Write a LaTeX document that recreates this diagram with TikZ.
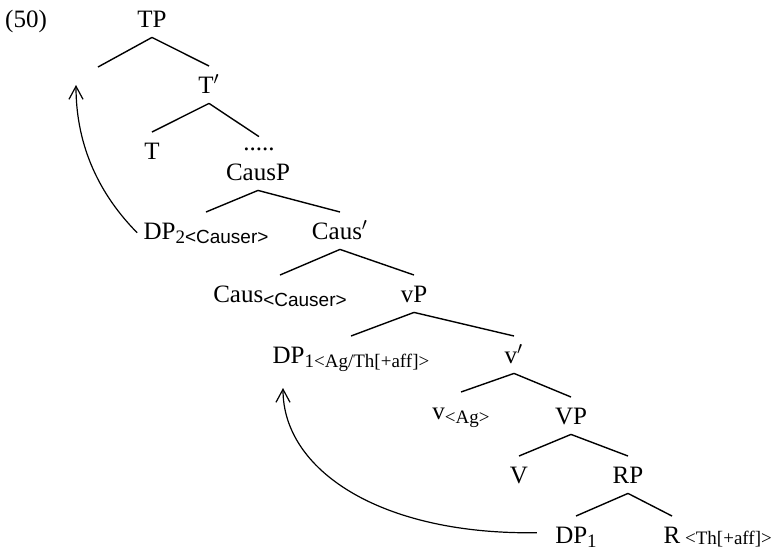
\documentclass[tikz,border=0pt]{standalone}
\usepackage{fontspec}
\setmainfont{Liberation Serif}
\setsansfont{Liberation Sans}
\usepackage{tikz}
\usetikzlibrary{arrows.meta}

% lowered small text for the subscripts
\newcommand\low[1]{\raisebox{-2pt}{\fontsize{9.5}{10}\selectfont #1}}

\begin{document}
\begin{tikzpicture}[x=0.5pt,y=-0.5pt,
    cat/.style={font=\fontsize{12.5}{14}\selectfont, text height=8.3pt, text depth=0pt,
                inner xsep=1pt, inner ysep=5pt},
    branch/.style={line width=0.7pt},
    move/.style={line width=0.6pt, -{Straight Barb[length=6.5pt,width=7pt]}}]
    \useasboundingbox (0,0) rectangle (776,554);

    \node[cat] (ex) at (26,18.7) {(50)};

    % the tree
    \node[cat] (tp)    at (152,18.7)  {TP};
    \coordinate (spec) at (98,67);
    \node[cat] (tbar)  at (209,84.7)  {T$'$};
    \node[cat] (t)     at (152,150.7) {T};
    \node[cat, text height=1.5pt] (dots) at (259,148.5) {.....};
    \node[cat] (causp) at (258,171.7) {CausP};
    \node[cat] (dptwo) at (206,230.7) {DP\low{2}\low{\sffamily <Causer>}};
    \node[cat] (causbar) at (340,230.7) {Caus$'$};
    \node[cat] (caus)  at (280,293.7) {Caus\low{\sffamily <Causer>}};
    \node[cat] (vp)    at (414,293.7) {vP};
    \node[cat] (dpone) at (351,354.7) {DP\low{1}\low{<Ag/Th[+aff]>}};
    \node[cat] (vbar)  at (514,354.7) {v$'$};
    \node[cat] (v)     at (461,410.7) {v\low{<Ag>}};
    \node[cat] (bigvp) at (571,415.7) {VP};
    \node[cat] (bigv)  at (519,474.7) {V};
    \node[cat] (rp)    at (628,474.7) {RP};
    \node[cat] (dplow) at (576,534.7) {DP\low{1}};
    \node[cat, label={[anchor=west, inner xsep=1pt, yshift=-2pt]east:{\fontsize{9.5}{10}\selectfont <Th[+aff]>}}] (r) at (672,534.7) {R};

    \draw[branch] (tp.south) -- (spec);
    \draw[branch] (tp.south) -- (tbar.north);
    \draw[branch] (tbar.south) -- (t.north);
    \draw[branch] (tbar.south) -- (dots.north);
    \draw[branch] (causp.south) -- (dptwo.north);
    \draw[branch] (causp.south) -- (causbar.north);
    \draw[branch] (causbar.south) -- (caus.north);
    \draw[branch] (causbar.south) -- (vp.north);
    \draw[branch] (vp.south) -- (dpone.north);
    \draw[branch] (vp.south) -- (vbar.north);
    \draw[branch] (vbar.south) -- (v.north);
    \draw[branch] (vbar.south) -- (bigvp.north);
    \draw[branch] (bigvp.south) -- (bigv.north);
    \draw[branch] (bigvp.south) -- (rp.north);
    \draw[branch] (rp.south) -- (dplow.north);
    \draw[branch] (rp.south) -- (r.north);

    % movement arrows
    \coordinate (landone) at (76,85);
    \coordinate (landtwo) at (283,388);
    \draw[move] ([xshift=-2pt,yshift=-1pt]dptwo.west) .. controls (95,190) and (76,140) .. (landone);
    \draw[move] ([xshift=-8pt,yshift=1pt]dplow.west) .. controls (380,535) and (283,470) .. (landtwo);
\end{tikzpicture}
\end{document}
